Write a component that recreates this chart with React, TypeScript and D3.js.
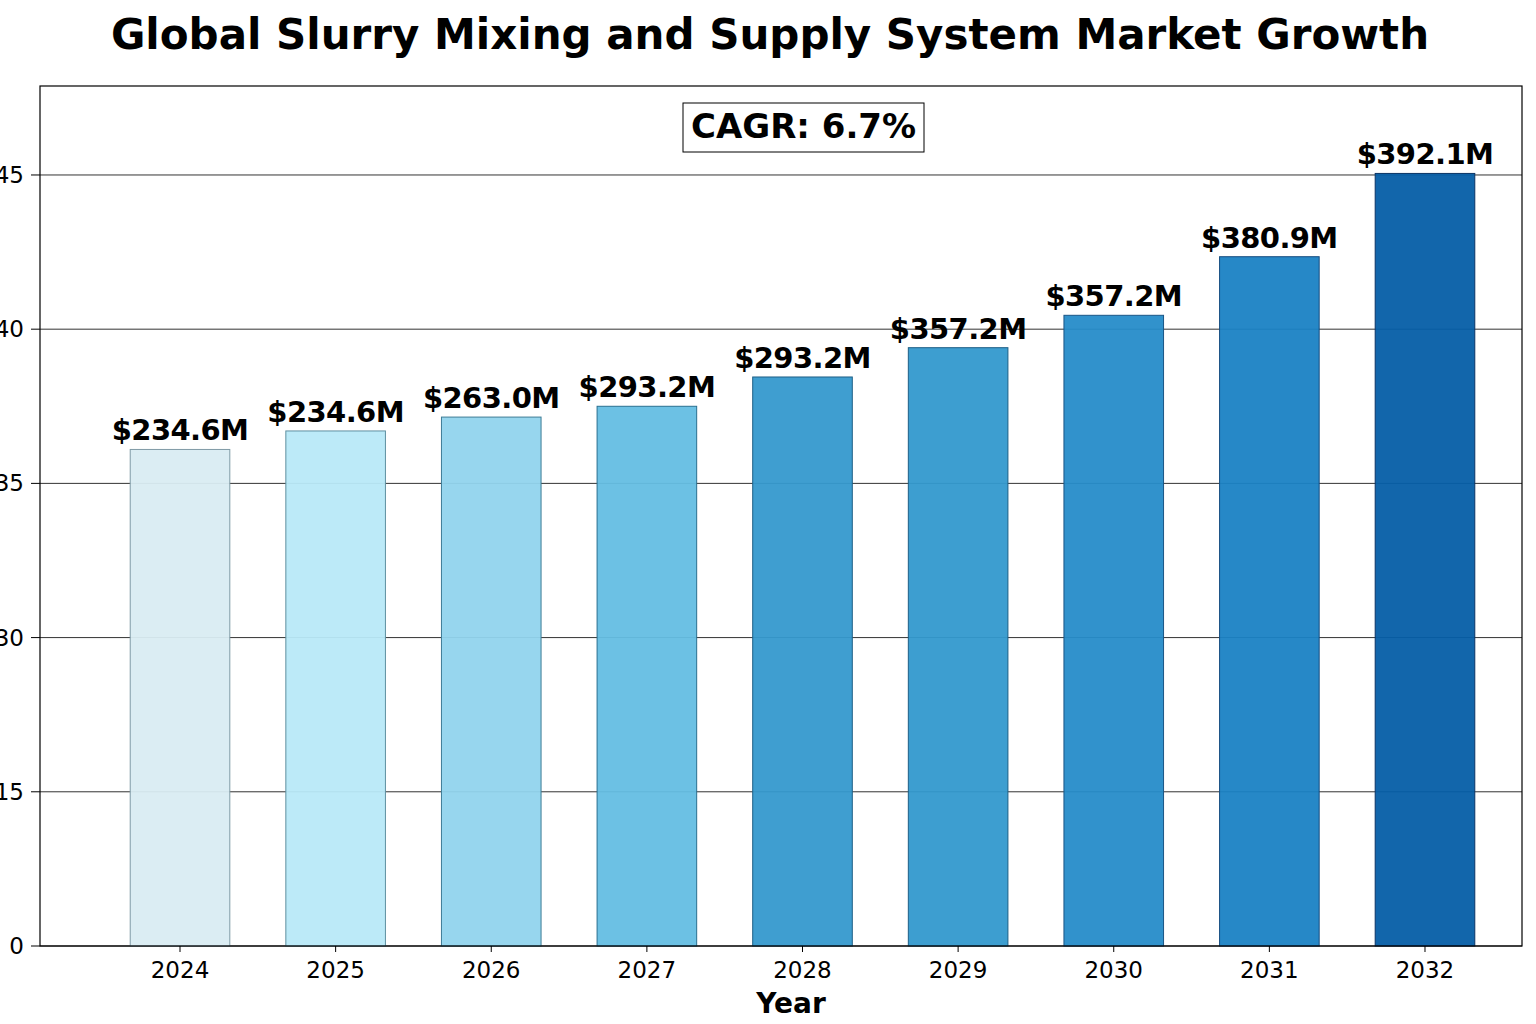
import React, { useEffect, useRef } from 'react';
import * as d3 from 'd3';

const years = ['2024', '2025', '2026', '2027', '2028', '2029', '2030', '2031', '2032'];
// bar heights in axis units (as drawn), and the printed labels
const barValues = [36.1, 36.7, 37.15, 37.5, 38.45, 39.4, 40.45, 42.35, 45.05];
const barLabels = ['$234.6M', '$234.6M', '$263.0M', '$293.2M', '$293.2M', '$357.2M', '$357.2M', '$380.9M', '$392.1M'];
const barColors = ['#d9ecf2', '#b8e9f8', '#91d4ed', '#64bee3', '#3599ce', '#3399cd', '#268cc9', '#1a82c4', '#055ea6'];
const barStrokes = ['#7f9aa6', '#5f8fa0', '#3d7c96', '#2a6f90', '#1d5f86', '#1d5f86', '#1a5585', '#164d80', '#0b3566'];
const yTicks = [0, 15, 30, 35, 40, 45];
const cagrText = 'CAGR: 6.7%';
const title = 'Global Slurry Mixing and Supply System Market Growth';

export default function App() {
  const ref = useRef<SVGSVGElement>(null);

  useEffect(() => {
    const width = 1536;
    const height = 1024;
    const left = 40, right = 1522, top = 86, bottom = 946;
    const step = (bottom - top) / 5.577;

    const svg = d3.select(ref.current);
    svg.selectAll('*').remove();
    svg.attr('width', width).attr('height', height)
      .style('font-family', '"DejaVu Sans", sans-serif');

    // the axis is evenly spaced per tick, not per value
    const y = d3.scaleLinear()
      .domain([0, 15, 30, 35, 40, 45, 47.885])
      .range([bottom, bottom - step, bottom - 2 * step, bottom - 3 * step, bottom - 4 * step, bottom - 5 * step, top]);

    const x = d3.scaleBand()
      .domain(years)
      .range([180 - 77.8, 1425 + 77.8])
      .paddingInner(0.36)
      .paddingOuter(0.18);

    const data = years.map((yr, i) => ({
      year: yr,
      value: barValues[i],
      label: barLabels[i],
      color: barColors[i],
      stroke: barStrokes[i],
    }));

    svg.append('rect').attr('width', width).attr('height', height).attr('fill', 'white');

    // grid
    svg.append('g')
      .selectAll('line')
      .data(yTicks)
      .join('line')
      .attr('x1', left)
      .attr('x2', right)
      .attr('y1', d => y(d))
      .attr('y2', d => y(d))
      .attr('stroke', '#333')
      .attr('stroke-width', 1);

    // bars
    svg.append('g')
      .selectAll('rect')
      .data(data)
      .join('rect')
      .attr('x', d => x(d.year)!)
      .attr('width', x.bandwidth())
      .attr('y', d => y(d.value))
      .attr('height', d => bottom - y(d.value))
      .attr('fill', d => d.color)
      .attr('fill-opacity', 0.95)
      .attr('stroke', d => d.stroke)
      .attr('stroke-width', 1);

    // value labels
    svg.append('g')
      .selectAll('text')
      .data(data)
      .join('text')
      .attr('x', d => x(d.year)! + x.bandwidth() / 2)
      .attr('y', d => y(d.value) - 9)
      .attr('text-anchor', 'middle')
      .attr('font-size', 29)
      .attr('font-weight', 'bold')
      .attr('letter-spacing', -0.6)
      .attr('fill', '#000')
      .text(d => d.label);

    // frame
    svg.append('rect')
      .attr('x', left)
      .attr('y', top)
      .attr('width', right - left)
      .attr('height', bottom - top)
      .attr('fill', 'none')
      .attr('stroke', '#000')
      .attr('stroke-width', 1.2);

    // y axis
    const yAxis = svg.append('g');
    yAxis.selectAll('line')
      .data(yTicks)
      .join('line')
      .attr('x1', left - 9)
      .attr('x2', left)
      .attr('y1', d => y(d))
      .attr('y2', d => y(d))
      .attr('stroke', '#000');
    yAxis.selectAll('text')
      .data(yTicks)
      .join('text')
      .attr('x', left - 16)
      .attr('y', d => y(d))
      .attr('dy', '0.35em')
      .attr('text-anchor', 'end')
      .attr('font-size', 23)
      .text(d => d);

    // x axis
    const xAxis = svg.append('g');
    xAxis.selectAll('line')
      .data(years)
      .join('line')
      .attr('x1', d => x(d)! + x.bandwidth() / 2)
      .attr('x2', d => x(d)! + x.bandwidth() / 2)
      .attr('y1', bottom)
      .attr('y2', bottom + 6)
      .attr('stroke', '#000');
    xAxis.selectAll('text')
      .data(years)
      .join('text')
      .attr('x', d => x(d)! + x.bandwidth() / 2)
      .attr('y', bottom + 32)
      .attr('text-anchor', 'middle')
      .attr('font-size', 23)
      .text(d => d);

    svg.append('text')
      .attr('x', 791)
      .attr('y', 1013)
      .attr('text-anchor', 'middle')
      .attr('font-size', 28)
      .attr('font-weight', 'bold')
      .text('Year');

    // title
    svg.append('text')
      .attr('x', 770)
      .attr('y', 49)
      .attr('text-anchor', 'middle')
      .attr('font-size', 42)
      .attr('font-weight', 'bold')
      .text(title);

    // CAGR box
    const cagr = svg.append('g');
    cagr.append('rect')
      .attr('x', 683)
      .attr('y', 103)
      .attr('width', 241)
      .attr('height', 49)
      .attr('fill', 'white')
      .attr('stroke', '#000')
      .attr('stroke-width', 1);
    cagr.append('text')
      .attr('x', 803.5)
      .attr('y', 138)
      .attr('text-anchor', 'middle')
      .attr('font-size', 34)
      .attr('font-weight', 'bold')
      .text(cagrText);
  }, []);

  return (
    <div style={{ position: 'absolute', left: 0, top: 0 }}>
      <svg ref={ref} style={{ display: 'block' }} />
    </div>
  );
}
